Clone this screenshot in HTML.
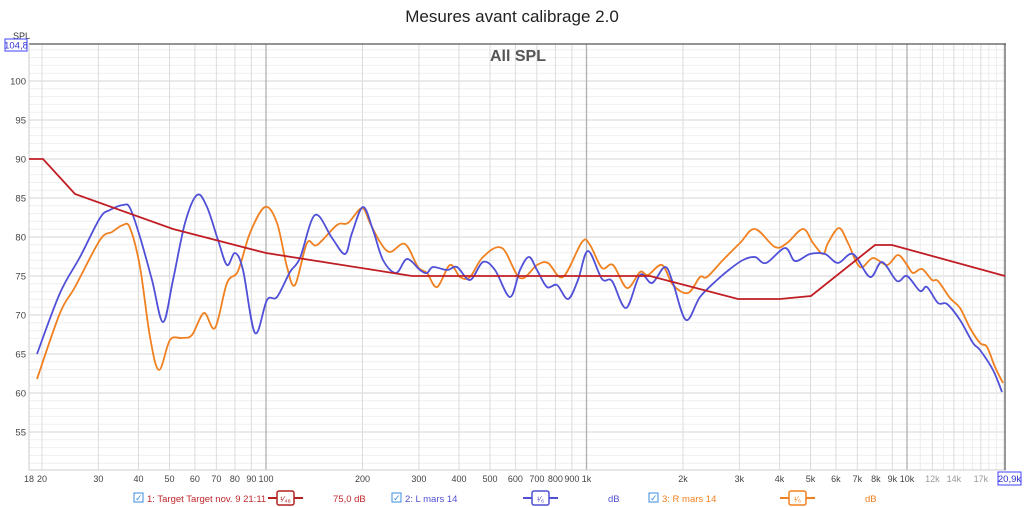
<!DOCTYPE html>
<html><head><meta charset="utf-8"><style>
html,body{margin:0;padding:0;background:#fff;width:1024px;height:507px;overflow:hidden;font-family:"Liberation Sans",sans-serif}
</style></head><body>
<svg id="s" width="1024" height="507" xmlns="http://www.w3.org/2000/svg" font-family="Liberation Sans, sans-serif">
<rect width="1024" height="507" fill="#fff"/>
<text x="512" y="22" text-anchor="middle" font-size="17" fill="#222">Mesures avant calibrage 2.0</text>
<g id="grid"></g>
<text x="518" y="61" text-anchor="middle" font-size="16" font-weight="bold" fill="#555">All SPL</text>
<g id="curves"></g>
<text x="13" y="39" font-size="9" fill="#333">SPL</text>
<rect x="5" y="39" width="22" height="12" fill="#fff" stroke="#4040ff" stroke-width="1"/>
<text x="16" y="48.5" text-anchor="middle" font-size="9.5" fill="#3030d0">104,8</text>
<rect x="998" y="472" width="23" height="13" fill="#fff" stroke="#4040ff"/>
<text x="1009.5" y="482" text-anchor="middle" font-size="9.5" fill="#3030d0">20,9k</text>
<g font-size="9.5">
<rect x="134" y="493" width="9" height="9" fill="#fff" stroke="#3a8de0"/><text x="135" y="501" font-size="9" fill="#3a8de0">✓</text>
<text x="147" y="502" fill="#c0282d">1: Target Target nov. 9 21:11</text>
<line x1="268" y1="498" x2="303" y2="498" stroke="#b22222" stroke-width="2"/><rect x="277" y="491" width="17" height="14" rx="2" fill="#fff" stroke="#b22222" stroke-width="1.5"/><text x="285.5" y="502" text-anchor="middle" font-size="8" fill="#b22222">¹⁄₄₈</text>
<text x="333" y="502" fill="#c0282d">75,0 dB</text>
<rect x="392" y="493" width="9" height="9" fill="#fff" stroke="#3a8de0"/><text x="393" y="501" font-size="9" fill="#3a8de0">✓</text>
<text x="405" y="502" fill="#5050d0">2: L mars 14</text>
<line x1="523" y1="498" x2="558" y2="498" stroke="#5050d0" stroke-width="2"/><rect x="532" y="491" width="17" height="14" rx="2" fill="#fff" stroke="#5050d0" stroke-width="1.5"/><text x="540.5" y="502" text-anchor="middle" font-size="8" fill="#5050d0">¹⁄₆</text>
<text x="608" y="502" fill="#5050d0">dB</text>
<rect x="649" y="493" width="9" height="9" fill="#fff" stroke="#3a8de0"/><text x="650" y="501" font-size="9" fill="#3a8de0">✓</text>
<text x="662" y="502" fill="#f08020">3: R mars 14</text>
<line x1="780" y1="498" x2="815" y2="498" stroke="#f08020" stroke-width="2"/><rect x="789" y="491" width="17" height="14" rx="2" fill="#fff" stroke="#f08020" stroke-width="1.5"/><text x="797.5" y="502" text-anchor="middle" font-size="8" fill="#f08020">¹⁄₆</text>
<text x="865" y="502" fill="#f08020">dB</text>
</g>
</svg>
<script>
const X=f=>266+320.5*Math.log10(f/100);
const Y=d=>81+(100-d)*7.8;
const L=29,R=1006,T=44,B=470;
let g="";
for(let d=51;d<=104;d++){const y=Y(d);g+=`<line x1="${L}" x2="${R}" y1="${y}" y2="${y}" stroke="${d%5==0?'#d6d6d6':'#efefef'}" stroke-width="1"/>`;
 if(d%5==0&&d<=100)g+=`<text x="26" y="${y+3.5}" text-anchor="end" font-size="9.5" fill="#444">${d}</text>`;}
const fs=[20,30,40,50,60,70,80,90,100,200,300,400,500,600,700,800,900,1000,2000,3000,4000,5000,6000,7000,8000,9000,10000,12000,14000,17000];
const lab={20:"20",30:"30",40:"40",50:"50",60:"60",70:"70",80:"80",90:"90",100:"100",200:"200",300:"300",400:"400",500:"500",600:"600",700:"700",800:"800",900:"900",1000:"1k",2000:"2k",3000:"3k",4000:"4k",5000:"5k",6000:"6k",7000:"7k",8000:"8k",9000:"9k",10000:"10k",12000:"12k",14000:"14k",17000:"17k"};
for(const f of fs){const x=X(f);const maj=(f==100||f==1000||f==10000);
 g+=`<line x1="${x}" x2="${x}" y1="${T}" y2="${B}" stroke="${maj?'#b0b0b0':'#dcdcdc'}" stroke-width="${maj?1.3:1}"/>`;
 g+=`<text x="${x}" y="${B+12}" text-anchor="middle" font-size="9" fill="${f>10000?'#999':'#444'}">${lab[f]}</text>`;}
for(const f of [11000,13000,15000,16000,18000,19000,20000]){const x=X(f);g+=`<line x1="${x}" x2="${x}" y1="${T}" y2="${B}" stroke="#ececec"/>`;}
g+=`<text x="${L}" y="${B+12}" text-anchor="middle" font-size="9" fill="#444">18</text>`;
g+=`<line x1="${L}" x2="${R}" y1="${T}" y2="${T}" stroke="#555" stroke-width="1.2"/>`;
g+=`<line x1="${L}" x2="${R}" y1="${B}" y2="${B}" stroke="#ccc"/>`;
g+=`<line x1="${L}" x2="${L}" y1="${T}" y2="${B}" stroke="#ccc"/>`;
g+=`<line x1="1005" x2="1005" y1="${T}" y2="${B}" stroke="#333"/>`;
document.getElementById("grid").innerHTML=g;
function smooth(p){let d=`M${p[0][0]},${p[0][1]}`;for(let i=0;i<p.length-1;i++){const p0=p[i-1]||p[i],p1=p[i],p2=p[i+1],p3=p[i+2]||p2;
 d+=` C${p1[0]+(p2[0]-p0[0])/6},${p1[1]+(p2[1]-p0[1])/6} ${p2[0]-(p3[0]-p1[0])/6},${p2[1]-(p3[1]-p1[1])/6} ${p2[0]},${p2[1]}`;}return d;}
const blue=[[37,354],[60,293],[80,257],[100,218],[110,210],[123,205],[130,208],[140,237],[152,280],[163,322],[173,280],[185,223],[197,195],[207,207],[218,240],[227,265],[235,253],[243,270],[255,333],[267,300],[277,297],[290,272],[300,258],[315,215],[332,238],[345,254],[352,233],[363,207],[373,230],[383,260],[396,273],[407,259],[420,270],[427,273],[433,267],[447,270],[457,267],[470,280],[483,262],[495,270],[510,297],[520,270],[529,257],[537,270],[547,287],[557,285],[568,299],[578,280],[588,251],[602,279],[612,281],[626,308],[640,275],[652,283],[665,267],[673,283],[686,320],[700,297],[717,280],[730,269],[743,260],[755,257],[766,263],[785,248],[795,261],[810,254],[825,254],[838,263],[853,254],[870,277],[882,262],[897,281],[907,276],[920,291],[927,287],[938,303],[947,304],[960,320],[973,343],[980,350],[993,370],[1002,392]];
const orange=[[37,379],[60,313],[75,287],[100,240],[112,232],[123,225],[130,228],[140,267],[150,337],[159,370],[170,340],[182,338],[192,335],[204,313],[215,328],[227,283],[238,271],[250,233],[265,207],[277,223],[287,267],[295,285],[307,243],[317,245],[337,225],[348,223],[362,208],[370,223],[380,242],[390,252],[405,244],[418,267],[427,273],[437,287],[450,265],[460,277],[470,277],[483,257],[502,248],[520,278],[537,265],[548,263],[563,277],[582,242],[590,245],[602,268],[613,265],[627,288],[640,272],[648,275],[662,265],[673,285],[688,293],[700,277],[707,277],[723,260],[740,243],[755,229],[775,247],[787,243],[803,229],[813,243],[823,254],[828,243],[839,228],[848,243],[860,267],[873,258],[887,265],[898,255],[907,265],[913,273],[922,269],[932,280],[938,281],[950,298],[960,308],[970,328],[980,343],[987,347],[995,367],[1003,383]];
const tgt=[[29,159],[43,159],[75,194],[173,229],[266,253],[412,276],[650,276],[738,299],[780,299],[811,296],[875,245],[892,245],[1005,276]];
let c="";
c+=`<path d="${smooth(orange)}" fill="none" stroke="#f08020" stroke-width="1.8"/>`;
c+=`<path d="${smooth(blue)}" fill="none" stroke="#5050d8" stroke-width="1.8"/>`;
c+=`<polyline points="${tgt.map(p=>p.join(',')).join(' ')}" fill="none" stroke="#c01e24" stroke-width="1.8"/>`;
document.getElementById("curves").innerHTML=c;
</script>
</body></html>
